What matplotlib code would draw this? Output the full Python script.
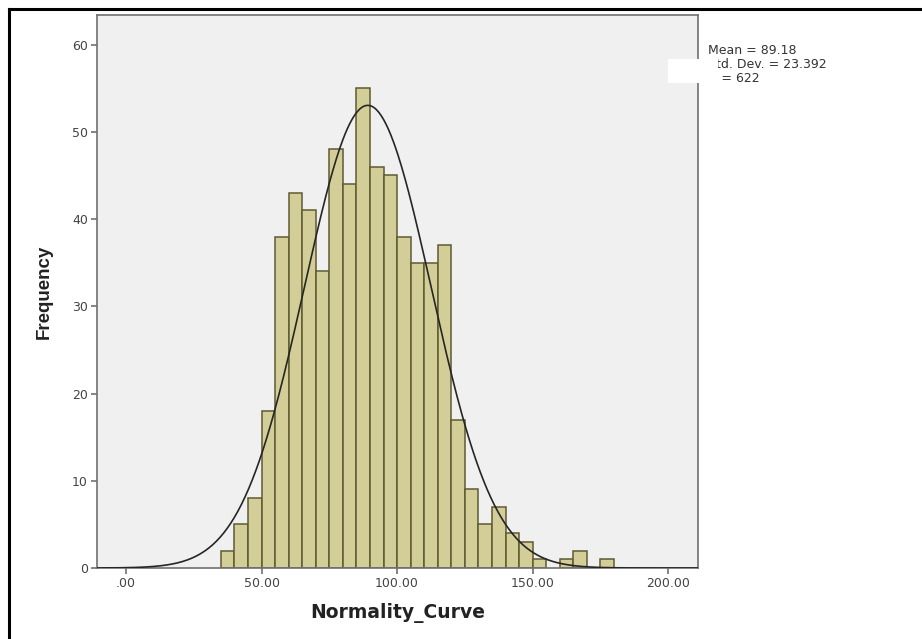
import numpy as np
import matplotlib
matplotlib.use("Agg")
import matplotlib.pyplot as plt
from matplotlib.lines import Line2D
from matplotlib.patches import Rectangle

# histogram counts (bins of width 5)
bin_lefts = [35, 40, 45, 50, 55, 60, 65, 70, 75, 80, 85, 90, 95, 100, 105,
             110, 115, 120, 125, 130, 135, 140, 145, 150, 155, 160, 165, 170, 175]
counts = [2, 5, 8, 18, 38, 43, 41, 34, 48, 44, 55, 46, 45, 38, 35,
          35, 37, 17, 9, 5, 7, 4, 3, 1, 0, 1, 2, 0, 1]
bin_width = 5

# summary shown in the legend box
mean = 89.18
std_dev = 23.392
n = 622

x_ticks = [0, 50, 100, 150, 200]
x_tick_labels = [".00", "50.00", "100.00", "150.00", "200.00"]
y_ticks = [0, 10, 20, 30, 40, 50, 60]

W, H = 922, 639
fig = plt.figure(figsize=(W / 100, H / 100), dpi=100)
ax = fig.add_axes([97 / W, 1 - 568 / H, (698 - 97) / W, (568 - 15) / H])
ax.set_facecolor("#f0f0f0")

lefts = [b for b, c in zip(bin_lefts, counts) if c > 0]
heights = [c for c in counts if c > 0]
ax.bar(lefts, heights, width=bin_width, align="edge",
       color="#d3ce97", edgecolor="#5e5a32", linewidth=1.1, zorder=2)

# fitted normal curve, scaled to counts
xs = np.linspace(-10.7, 211, 500)
ys = n * bin_width / (std_dev * np.sqrt(2 * np.pi)) * np.exp(-0.5 * ((xs - mean) / std_dev) ** 2)
ax.plot(xs, ys, color="#262626", linewidth=1.2, zorder=3)

ax.set_xlim(-10.7, 211)
ax.set_ylim(0, 63.4)
ax.set_xticks(x_ticks)
ax.set_xticklabels(x_tick_labels)
ax.set_yticks(y_ticks)

for side in ["left", "right", "top", "bottom"]:
    ax.spines[side].set_color("#707070")
    ax.spines[side].set_linewidth(1.2)
ax.tick_params(axis="both", colors="#707070", labelcolor="#444444",
               labelsize=9, width=1.2, length=4.5, pad=2)

ax.set_xlabel("Normality_Curve", fontsize=13.5, fontweight="bold",
              color="#222222", labelpad=9)
ax.set_ylabel("Frequency", fontsize=13.5, fontweight="bold", color="#222222",
              family=["Liberation Sans", "DejaVu Sans"], labelpad=14)

# legend text on the right
fig.text(708 / W, 1 - 51 / H, f"Mean = {mean:.2f}", fontsize=9, va="center", color="#333333")
fig.text(708 / W, 1 - 64 / H, f"Std. Dev. = {std_dev:.3f}", fontsize=9, va="center", color="#333333")
fig.text(708 / W, 1 - 78 / H, f"N = {n}", fontsize=9, va="center", color="#333333")

# white patch covering part of the legend, as in the source image
fig.add_artist(Rectangle((668 / W, 1 - 83 / H), (718 - 668) / W, 24 / H,
                         transform=fig.transFigure, facecolor="white",
                         edgecolor="none", zorder=10))

# black frame on left and top
fig.add_artist(Line2D([9 / W, 9 / W], [0, 1 - 9 / H], transform=fig.transFigure,
                      color="black", linewidth=2.2))
fig.add_artist(Line2D([9 / W, 1], [1 - 9 / H, 1 - 9 / H], transform=fig.transFigure,
                      color="black", linewidth=2.2))

fig.savefig("out.png", dpi=100)
